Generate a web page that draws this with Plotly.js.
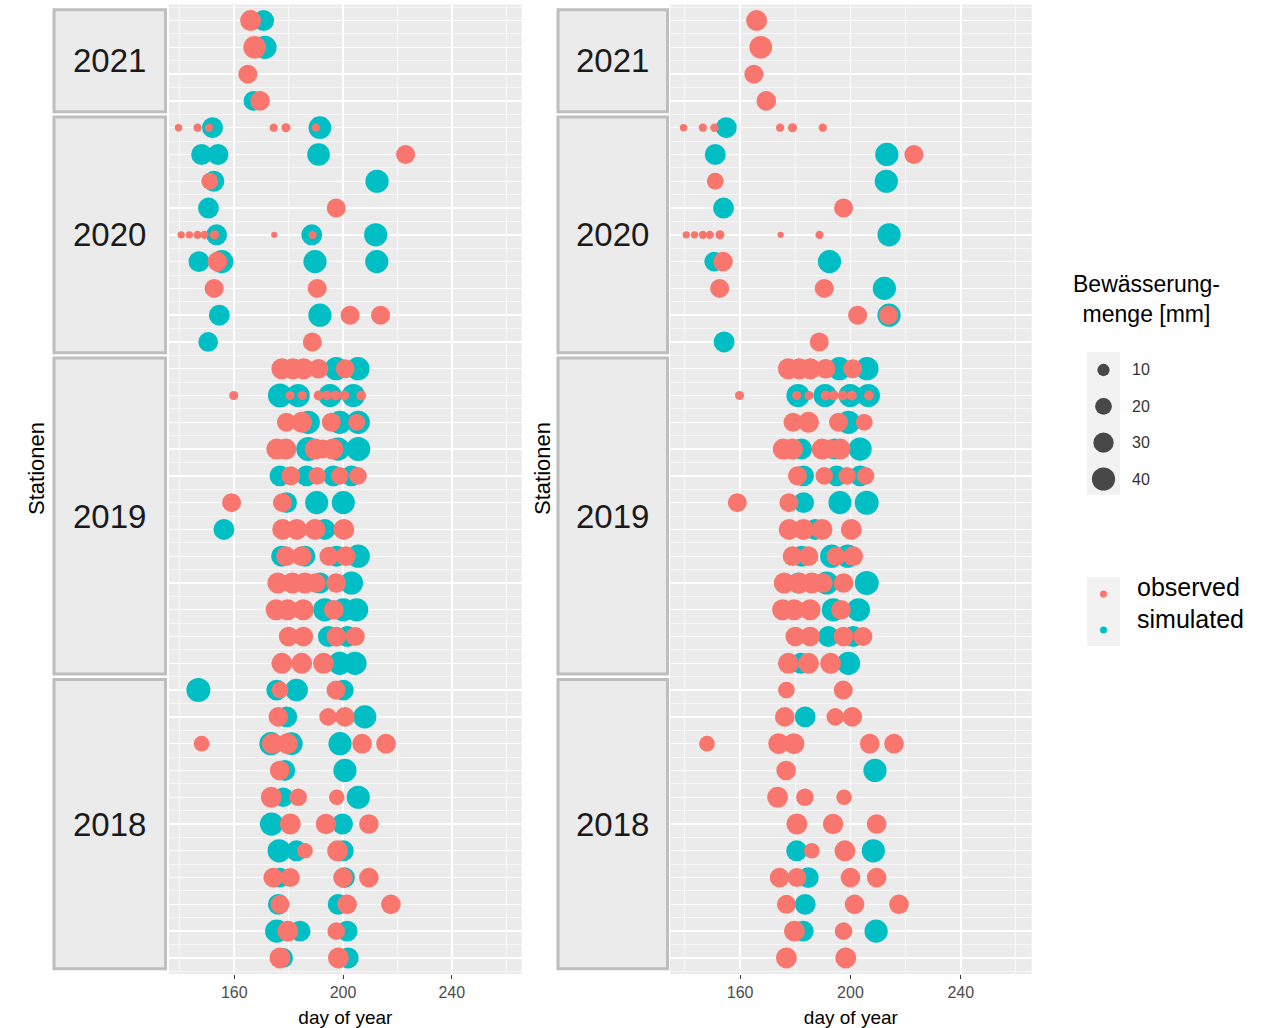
<!DOCTYPE html>
<html><head><meta charset="utf-8">
<script src="https://cdn.plot.ly/plotly-3.0.1.min.js"></script>
<style>html,body{margin:0;padding:0;background:#fff}#chart{width:1271px;height:1028px}</style>
</head><body><div id="chart"></div>
<script>
// ---------- data ----------
const yearLabels = ['2021', '2020', '2019', '2018'];
const yearStationCounts = [4, 9, 12, 11];
const xTickVals = [160, 200, 240];
const xMinorVals = [140, 180, 220, 260];
const sizeLegendValues = [10, 20, 30, 40];
const seriesNames = ['observed', 'simulated'];
const legendTitle = 'Bewässerung-<br>menge [mm]';

// observed irrigation (same in both panels): station row, day of year, amount [mm]
const obsStation = [1,2,3,4,
  5,5,5,5,5,5, 6, 7, 8, 9,9,9,9,9,9,9, 10, 11,11, 12,12, 13,
  14,14,14,14,14, 15,15,15,15,15,15,15,15, 16,16,16,16, 17,17,17,17,17, 18,18,18,18,
  19,19, 20,20,20,20, 21,21,21,21, 22,22,22,22,22, 23,23,23,23, 24,24,24,24, 25,25,25,
  26,26, 27,27,27, 28,28,28,28,28, 29, 30,30,30, 31,31,31, 32,32, 33,33,33,33, 34,34,34, 35,35, 36,36];
const obsDay = [166,167.5,165,169.5,
  139.5,146.5,150.7,174.5,179,190, 223, 151, 197.5, 140.5,143.5,146.5,149,152.7,174.7,188.8, 153.8, 152.6,190.5, 202.6,213.8, 188.7,
  177.5,181.5,185.5,191,200.8, 159.8,180.5,185,191,194,197.2,200.5,206.7, 179.2,184.8,195.7,205, 175.6,179,189.7,192.5,196.3, 180.8,190.5,198.8,205.5,
  159,177.7, 177.8,183,189.7,200.3, 179,184.8,194.8,201, 176,181.4,186,190,197.5, 175.4,179.6,185.4,196.6, 180,185.4,197.5,204.5, 177.5,184.8,192.8,
  176.8,197.4, 176.2,194.5,200.7, 148,174,179.5,207,215.8, 176.7, 173.6,183.5,197.7, 180.6,193.7,209.5, 186,198, 174.3,180.6,200,209.5, 176.8,201.5,217.6, 179.7,197.5, 176.8,198.3];
const obsMm = [32,38,26,28,
  3,4,4,4,5,4, 26, 20, 26, 3,3,4,4,5,2,4, 28, 26,26, 26,26, 26,
  32,32,32,28,26, 5,5,5,6,6,6,6,6, 26,32,26,20, 32,32,32,26,32, 26,22,22,22,
  26,26, 32,32,32,32, 28,28,26,28, 32,32,32,28,28, 32,32,32,28, 28,28,28,26, 32,32,32,
  20,26, 28,22,28, 17,32,32,28,28, 28, 32,22,17, 32,30,28, 17,32, 28,26,28,28, 26,28,28, 32,22, 32,32];

// simulated, model A (left panel)
const simAStation = [1,2,4, 5,5, 6,6,6, 7,7, 8, 9,9,9, 10,10,10,10, 12,12, 13,
  14,14, 15,15,15,15, 16,16,16, 17,17,17, 18,18,18,18, 19,19,19, 20,20, 21,21,21,21, 22,22, 23,23,23, 24,24, 25,25,
  26,26,26,26, 27,27, 28,28,28, 29,29, 30,30, 31,31, 32,32,32, 33,33, 34,34, 35,35,35, 36,36];
const simADay = [170.8,171.3,167, 152,191.5, 148,154,191, 152.5,212.5, 150.5, 153.5,188.5,212, 147,155.4,189.7,212.4, 154.5,191.5, 150.4,
  197.5,205.5, 176.8,183.5,195.2,203.8, 187.2,198.8,205.6, 187.2,198.2,205.6, 176.8,186.6,196.4,203.1, 179.2,190.3,200.1, 156.2,193.3, 177.4,186,197.6,205.6, 191.5,203.1, 193.3,200.1,205, 194.6,201.5, 198.8,204.4,
  146.8,175.6,182.9,200.1, 179.3,208, 173.5,181,198.9, 178.6,200.7, 178,205.6, 173.7,199.8, 176.5,182.9,200.1, 176.8,200.5, 176.2,198.2, 175.6,184.2,201.5, 178,201.9];
const simAMm = [32,40,28, 32,38, 32,32,38, 32,40, 32, 32,32,40, 32,40,40,40, 32,40, 28,
  40,40, 43,40,40,40, 40,40,40, 43,40,43, 32,32,32,32, 32,40,40, 32,32, 32,32,32,40, 32,40, 40,40,40, 32,32, 40,40,
  43,32,38,32, 32,40, 40,38,40, 32,40, 28,40, 40,32, 40,32,32, 28,32, 32,32, 40,32,32, 28,32];

// simulated, model B (right panel)
const simBStation = [5, 6,6, 7, 8, 9, 10,10, 11, 12, 13,
  14,14, 15,15,15,15, 16, 17,17,17, 18,18,18, 19,19,19, 20, 21,21,21, 22,22,22, 23,23, 24,24, 25,25,
  27, 29, 32,32, 33, 34, 35,35];
const simBDay = [155, 151,213.2, 213, 154, 214, 150.6,192.4, 212.3, 214, 154.2,
  196,206, 181,190.8,199.9,206.5, 199.3, 182.3,194.4,203.5, 183,195,203.5, 183,196.2,205.9, 187.2, 182.3,193.2,199, 181.1,191.4,205.9, 193.8,202.9, 192,201, 182,199.3,
  183.6, 208.9, 180.5,208.3, 184.7, 183.6, 182.9,209.3];
const simBMm = [32, 32,40, 40, 32, 40, 28,40, 40, 40, 32,
  40,40, 40,40,40,40, 40, 32,32,40, 32,32,32, 32,40,43, 32, 32,40,40, 32,40,43, 40,40, 32,32, 32,40,
  32, 40, 32,40, 32, 32, 32,40];

// ---------- styling / scales ----------
const FONT = '"Liberation Sans", Arial, sans-serif';
const RED = '#F8766D', TEAL = '#00BFC4';
const W = 1271, H = 1028;
const px = v => v / W, py = v => 1 - v / H;
const sizePx = mm => 1.4 + 3.45 * Math.sqrt(mm);   // area-like size scale
const nRows = yearStationCounts.reduce((a, b) => a + b, 0);
const rowVals = Array.from({length: nRows}, (_, i) => i + 1);
const halfRowVals = Array.from({length: nRows + 1}, (_, i) => i + 0.5);

function pts(st, day, mm, color, xa, ya) {
  return {type: 'scatter', mode: 'markers', x: day, y: st, xaxis: xa, yaxis: ya,
    marker: {color: color, size: mm.map(sizePx), line: {width: 0}, opacity: 1},
    hoverinfo: 'skip', showlegend: false, cliponaxis: true};
}

const traces = [
  pts(simAStation, simADay, simAMm, TEAL, 'x', 'y'),
  pts(obsStation, obsDay, obsMm, RED, 'x', 'y'),
  pts(simBStation, simBDay, simBMm, TEAL, 'x2', 'y2'),
  pts(obsStation, obsDay, obsMm, RED, 'x2', 'y2'),
  // size legend
  {type: 'scatter', mode: 'markers', x: sizeLegendValues.map(() => 0.5), y: sizeLegendValues.map((v, i) => i + 1),
   xaxis: 'x3', yaxis: 'y3', marker: {color: '#000000', size: sizeLegendValues.map(sizePx), line: {width: 0}},
   hoverinfo: 'skip', showlegend: false, cliponaxis: false},
  // colour legend
  {type: 'scatter', mode: 'markers', x: seriesNames.map(() => 0.5), y: seriesNames.map((v, i) => i + 1),
   xaxis: 'x4', yaxis: 'y4', marker: {color: [RED, TEAL], size: 7, line: {width: 0}},
   hoverinfo: 'skip', showlegend: false, cliponaxis: false}
];

const yBase = {range: [nRows + 0.6, 0.4], tickmode: 'array', tickvals: rowVals, showticklabels: false, ticks: '',
  showgrid: true, gridcolor: '#FFFFFF', gridwidth: 1.4,
  minor: {tickmode: 'array', tickvals: halfRowVals, showgrid: true, gridcolor: '#FFFFFF', gridwidth: 0.6, ticks: ''},
  zeroline: false, showline: false, fixedrange: true,
  domain: [py(974), py(4.5)]};
function xBase(dom, range, anchor) {
  return {domain: dom, range: range, anchor: anchor, tickmode: 'array', tickvals: xTickVals, ticktext: xTickVals.map(String),
    ticks: 'outside', ticklen: 4, tickwidth: 1, tickcolor: '#333333',
    tickfont: {family: FONT, size: 16, color: '#4D4D4D'},
    showgrid: true, gridcolor: '#FFFFFF', gridwidth: 1.6,
    minor: {tickmode: 'array', tickvals: xMinorVals, showgrid: true, gridcolor: '#FFFFFF', gridwidth: 0.7, ticks: ''},
    zeroline: false, showline: false, fixedrange: true,
    title: {text: 'day of year', font: {family: FONT, size: 19, color: '#000000'}, standoff: 10}};
}
const hidden = (dom, range, anchor) => ({domain: dom, range: range, anchor: anchor, visible: false, fixedrange: true});

const shapes = [];
// panel backgrounds
[['x', 'y'], ['x2', 'y2']].forEach(([xa, ya]) => shapes.push({type: 'rect', xref: xa + ' domain', yref: ya + ' domain',
  x0: 0, x1: 1, y0: 0, y1: 1, fillcolor: '#EBEBEB', line: {width: 0}, layer: 'below'}));
// legend key backgrounds
[['x3', 'y3'], ['x4', 'y4']].forEach(([xa, ya]) => shapes.push({type: 'rect', xref: xa + ' domain', yref: ya + ' domain',
  x0: 0, x1: 1, y0: 0, y1: 1, fillcolor: '#F2F2F2', line: {width: 0}, layer: 'below'}));

const annotations = [];
// facet strips (year boxes) built from the station counts
const stripX = [[54, 165.5], [558, 667.5]];
let start = 1;
yearLabels.forEach((lab, g) => {
  const end = start + yearStationCounts[g] - 1;
  const y0 = Math.max(start - 0.5, 0.4) + 0.1;
  const y1 = Math.min(end + 0.5, nRows + 0.6) - 0.1;
  stripX.forEach(([a, b]) => {
    shapes.push({type: 'rect', xref: 'paper', yref: 'y', x0: px(a), x1: px(b), y0: y0, y1: y1,
      fillcolor: '#EBEBEB', line: {color: '#BEBEBE', width: 3}, layer: 'above'});
    annotations.push({xref: 'paper', yref: 'y', x: px((a + b) / 2), y: (start + end) / 2, text: lab, showarrow: false,
      font: {family: FONT, size: 33, color: '#1A1A1A'}, xanchor: 'center', yanchor: 'middle'});
  });
  start = end + 1;
});
// y axis titles
[37, 543].forEach(x => annotations.push({xref: 'paper', yref: 'paper', x: px(x), y: py(469), text: 'Stationen',
  textangle: -90, showarrow: false, font: {family: FONT, size: 22, color: '#000000'}, xanchor: 'center', yanchor: 'middle'}));
// legend title
annotations.push({xref: 'paper', yref: 'paper', x: px(1146), y: py(299), text: legendTitle, showarrow: false,
  align: 'center', font: {family: FONT, size: 23, color: '#000000'}, xanchor: 'center', yanchor: 'middle'});
// size legend labels
sizeLegendValues.forEach((v, i) => annotations.push({xref: 'x3', yref: 'y3', x: 1, y: i + 1, xshift: 10, text: String(v),
  showarrow: false, font: {family: FONT, size: 16, color: '#333333'}, xanchor: 'left', yanchor: 'middle'}));
// colour legend labels
const colourLabelShift = [7, 11];
seriesNames.forEach((s, i) => annotations.push({xref: 'x4', yref: 'y4', x: 1, y: i + 1, xshift: 15, yshift: colourLabelShift[i], text: s,
  showarrow: false, font: {family: FONT, size: 25, color: '#000000'}, xanchor: 'left', yanchor: 'middle'}));

const layout = {
  width: W, height: H, margin: {l: 0, r: 0, t: 0, b: 0},
  paper_bgcolor: '#FFFFFF', plot_bgcolor: 'rgba(0,0,0,0)',
  font: {family: FONT},
  showlegend: false,
  xaxis: xBase([px(169), px(521.7)], [136, 265.7], 'y'),
  yaxis: Object.assign({}, yBase, {anchor: 'x'}),
  xaxis2: xBase([px(670), px(1031.7)], [134.6, 265.7], 'y2'),
  yaxis2: Object.assign({}, yBase, {anchor: 'x2'}),
  xaxis3: hidden([px(1087), px(1120)], [0, 1], 'y3'),
  yaxis3: hidden([py(495), py(352)], [4.44, 0.505], 'x3'),
  xaxis4: hidden([px(1087), px(1120)], [0, 1], 'y4'),
  yaxis4: hidden([py(646), py(577)], [2.444, 0.528], 'x4'),
  shapes: shapes, annotations: annotations
};

Plotly.newPlot('chart', traces, layout, {staticPlot: true, displayModeBar: false});
</script></body></html>
